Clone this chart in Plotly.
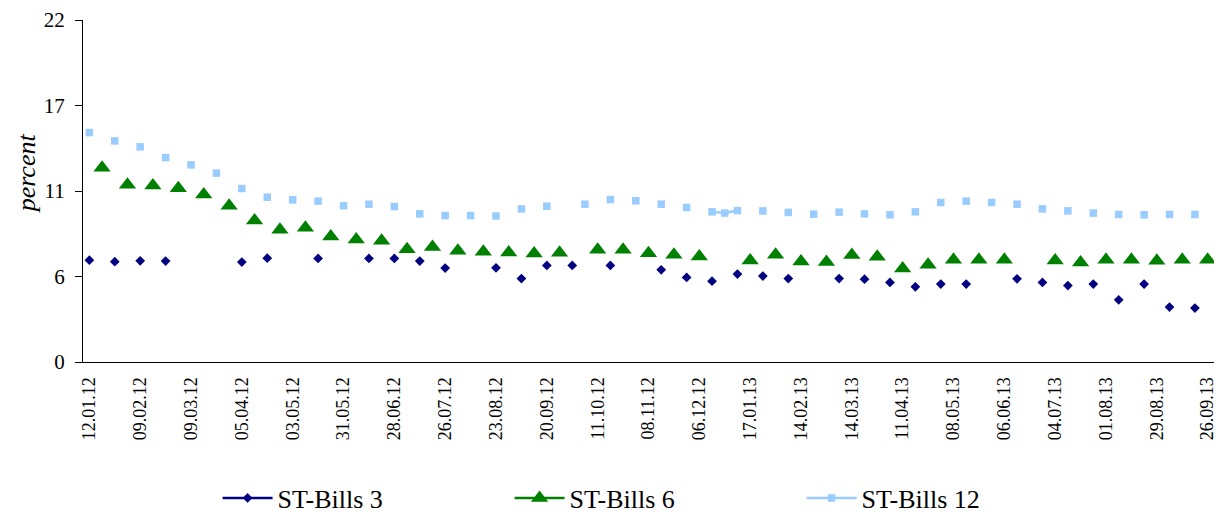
import plotly.graph_objects as go

dates = [
    "12.01.12", "19.01.12", "26.01.12", "02.02.12",
    "09.02.12", "16.02.12", "23.02.12", "01.03.12",
    "09.03.12", "15.03.12", "22.03.12", "29.03.12",
    "05.04.12", "12.04.12", "19.04.12", "26.04.12",
    "03.05.12", "10.05.12", "17.05.12", "24.05.12",
    "31.05.12", "07.06.12", "14.06.12", "21.06.12",
    "28.06.12", "05.07.12", "12.07.12", "19.07.12",
    "26.07.12", "02.08.12", "09.08.12", "16.08.12",
    "23.08.12", "30.08.12", "06.09.12", "13.09.12",
    "20.09.12", "27.09.12", "04.10.12", "09.10.12",
    "11.10.12", "18.10.12", "25.10.12", "01.11.12",
    "08.11.12", "15.11.12", "22.11.12", "29.11.12",
    "06.12.12", "13.12.12", "20.12.12", "10.01.13",
    "17.01.13", "24.01.13", "31.01.13", "07.02.13",
    "14.02.13", "21.02.13", "28.02.13", "07.03.13",
    "14.03.13", "21.03.13", "28.03.13", "04.04.13",
    "11.04.13", "18.04.13", "25.04.13", "02.05.13",
    "08.05.13", "16.05.13", "23.05.13", "30.05.13",
    "06.06.13", "13.06.13", "20.06.13", "27.06.13",
    "04.07.13", "11.07.13", "18.07.13", "25.07.13",
    "01.08.13", "08.08.13", "15.08.13", "22.08.13",
    "29.08.13", "05.09.13", "12.09.13", "19.09.13",
    "26.09.13",
]

tick_labels = [
    "12.01.12", "09.02.12", "09.03.12", "05.04.12", "03.05.12", "31.05.12",
    "28.06.12", "26.07.12", "23.08.12", "20.09.12", "11.10.12", "08.11.12",
    "06.12.12", "17.01.13", "14.02.13", "14.03.13", "11.04.13", "08.05.13",
    "06.06.13", "04.07.13", "01.08.13", "29.08.13", "26.09.13",
]

N = None
bills_3 = [
    6.55, N, 6.45, N,
    6.51, N, 6.49, N,
    N, N, N, N,
    6.43, N, 6.68, N,
    N, N, 6.66, N,
    N, N, 6.66, N,
    6.66, N, 6.49, N,
    6.04, N, N, N,
    6.06, N, 5.37, N,
    6.21, N, 6.21, N,
    N, 6.21, N, N,
    N, 5.93, N, 5.44,
    N, 5.20, N, 5.66,
    N, 5.53, N, 5.37,
    N, N, N, 5.37,
    N, 5.33, N, 5.12,
    N, 4.84, N, 5.01,
    N, 5.01, N, N,
    N, 5.35, N, 5.12,
    N, 4.92, N, 5.01,
    N, 4.00, N, 5.01,
    N, 3.53, N, 3.47,
    N,
]

bills_6 = [
    N, 12.50, N, 11.40,
    N, 11.35, N, 11.18,
    N, 10.77, N, 10.05,
    N, 9.10, N, 8.50,
    N, 8.63, N, 8.07,
    N, 7.88, N, 7.80,
    N, 7.26, N, 7.39,
    N, 7.15, N, 7.09,
    N, 7.04, N, 6.98,
    N, 7.02, N, N,
    7.22, N, 7.22, N,
    7.00, N, 6.90, N,
    6.79, N, N, N,
    6.53, N, 6.90, N,
    6.47, N, 6.43, N,
    6.88, N, 6.77, N,
    6.02, N, 6.25, N,
    6.57, N, 6.57, N,
    6.57, N, N, N,
    6.53, N, 6.40, N,
    6.57, N, 6.57, N,
    6.51, N, 6.57, N,
    6.57,
]

bills_12 = [
    14.76, N, 14.22, N,
    13.84, N, 13.15, N,
    12.68, N, 12.15, N,
    11.16, N, 10.60, N,
    10.43, N, 10.35, N,
    10.05, N, 10.15, N,
    10.00, N, 9.53, N,
    9.42, N, 9.42, N,
    9.39, N, 9.85, N,
    10.02, N, N, 10.15,
    N, 10.45, N, 10.37,
    N, 10.15, N, 9.94,
    N, 9.66, 9.58, 9.74,
    N, 9.72, N, 9.62,
    N, 9.51, N, 9.64,
    N, 9.53, N, 9.47,
    N, 9.66, N, 10.26,
    N, 10.35, N, 10.26,
    N, 10.15, N, 9.85,
    N, 9.72, N, 9.58,
    N, 9.49, N, 9.47,
    N, 9.49, N, 9.49,
    N,
]

y_tickvals = [0, 5.5, 11, 16.5, 22]
y_ticktext = ["0", "6", "11", "17", "22"]

FONT = "Liberation Serif"

fig = go.Figure()
fig.add_trace(go.Scatter(
    x=dates, y=bills_3, name="ST-Bills 3", mode="lines+markers",
    connectgaps=False,
    line=dict(color="#000080", width=2.5),
    marker=dict(symbol="diamond", size=7.5, color="#000080"),
))
fig.add_trace(go.Scatter(
    x=dates, y=bills_6, name="ST-Bills 6", mode="lines+markers",
    connectgaps=False,
    line=dict(color="#008000", width=2.5),
    marker=dict(symbol="triangle-up", size=15, color="#008000"),
))
fig.add_trace(go.Scatter(
    x=dates, y=bills_12, name="ST-Bills 12", mode="lines+markers",
    connectgaps=False,
    line=dict(color="#99CCFF", width=2.5),
    marker=dict(symbol="square", size=7.5, color="#99CCFF"),
))

n = len(dates)
boundaries = [i - 0.5 for i in range(0, n - 1, 2)]

fig.update_layout(
    width=1221, height=519,
    margin=dict(l=83, r=7, t=20, b=157, autoexpand=False),
    paper_bgcolor="white", plot_bgcolor="white",
    font=dict(family=FONT, color="black", size=18),
    showlegend=True,
    legend=dict(
        orientation="h", x=0.119, xanchor="left", y=-0.329, yanchor="top",
        font=dict(size=26, family=FONT, color="black"),
        entrywidth=227, entrywidthmode="pixels",
        itemwidth=50,
        bgcolor="rgba(0,0,0,0)",
    ),
    xaxis=dict(
        type="category", categoryorder="array", categoryarray=dates,
        range=[-0.5, n - 0.5], automargin=False,
        tickmode="array", tickvals=tick_labels, ticktext=tick_labels,
        ticks="", tickangle=-90, ticklabelstandoff=7,
        tickfont=dict(size=18, family=FONT, color="black"),
        showline=True, linecolor="black", linewidth=1,
        showgrid=False, zeroline=False,
    ),
    xaxis2=dict(
        overlaying="x", anchor="y", side="bottom",
        range=[-0.5, n - 0.5], automargin=False,
        tickmode="array", tickvals=boundaries,
        ticks="outside", ticklen=5, tickcolor="black", tickwidth=1,
        showticklabels=False, showline=False, showgrid=False, zeroline=False,
    ),
    yaxis=dict(
        range=[0, 22], automargin=False,
        tickmode="array", tickvals=y_tickvals, ticktext=y_ticktext,
        ticks="outside", ticklen=7, tickcolor="black", tickwidth=1,
        ticklabelstandoff=6,
        tickfont=dict(size=21, family=FONT, color="black"),
        showline=True, linecolor="black", linewidth=1,
        showgrid=False, zeroline=False,
    ),
    annotations=[dict(
        text="<i>percent</i>", textangle=-90,
        xref="paper", yref="paper", x=-0.05, y=0.553,
        xanchor="center", yanchor="middle", showarrow=False,
        font=dict(size=26, family=FONT, color="black"),
    )],
)

fig.write_html(
    "out.html",
    config={"displayModeBar": False},
    post_script="document.body.style.margin='0';document.body.style.overflow='hidden';",
)
